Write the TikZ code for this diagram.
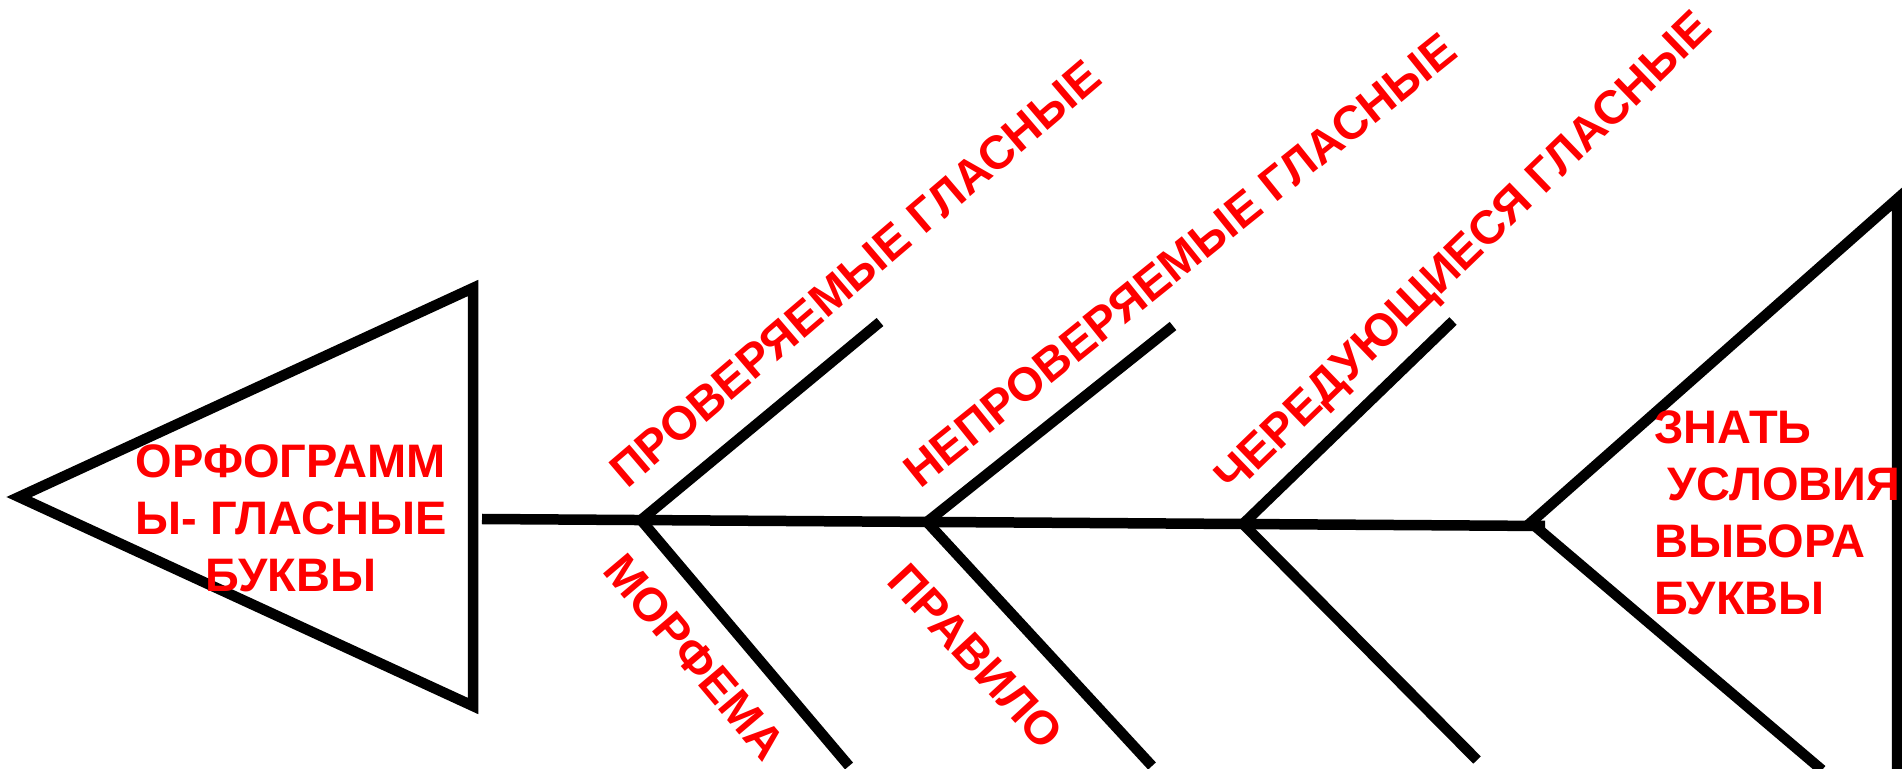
\documentclass[tikz,border=0pt]{standalone}
\usepackage{fontspec}
\setmainfont{Liberation Sans}
\begin{document}
\begin{tikzpicture}[x=1pt,y=1pt,
  bone/.style={line width=10.5pt, line join=miter, line cap=butt, draw=black},
  lbl/.style={text=red, font=\fontsize{47}{57}\selectfont\bfseries, inner sep=0pt}]
\fill[white] (0,0) rectangle (1902,768);
\useasboundingbox (0,0) rectangle (1902,768);
% head triangle
\coordinate (T1) at (19,271);
\coordinate (T2) at (473,480);
\coordinate (T3) at (473,62);
\draw[bone] (T1) -- (T2) -- (T3) -- cycle;
% spine
\coordinate (S0) at (482,249);
\coordinate (S1) at (1545,242);
\draw[bone] (S0) -- (S1);
% junctions
\coordinate (J1) at (641,248);
\coordinate (J2) at (927,246);
\coordinate (J3) at (1243,244);
\coordinate (J4) at (1528,243);
\coordinate (J4b) at (1536,241);
% branch ends
\coordinate (U1) at (880,446);
\coordinate (U2) at (1173,442);
\coordinate (U3) at (1453,447);
\coordinate (L1) at (849,2);
\coordinate (L2) at (1152,2);
\coordinate (L3) at (1477,8);
\coordinate (TT) at (1897,569);
\coordinate (TB) at (1897,-8);
\coordinate (TL) at (1822,-2);
\draw[bone] (J1) -- (U1);
\draw[bone] (J2) -- (U2);
\draw[bone] (J3) -- (U3);
\draw[bone] (J1) -- (L1);
\draw[bone] (J2) -- (L2);
\draw[bone] (J3) -- (L3);
\draw[bone] (J4) -- (TT) -- (TB);
\draw[bone] (J4b) -- (TL);
% labels
\node[lbl, align=center] (head) at (291,250) {ОРФОГРАММ\\Ы- ГЛАСНЫЕ\\БУКВЫ};
\node[lbl, rotate=40.5, anchor=base west] (t1) at (627,278) {ПРОВЕРЯЕМЫЕ ГЛАСНЫЕ};
\node[lbl, rotate=38.8, anchor=base west] (t2) at (920,278) {НЕПРОВЕРЯЕМЫЕ ГЛАСНЫЕ};
\node[lbl, rotate=44, anchor=base west] (t3) at (1233,272) {ЧЕРЕДУЮЩИЕСЯ ГЛАСНЫЕ};
\node[lbl, rotate=-49.8, anchor=base west] (b1) at (601.5,196.3) {МОРФЕМА};
\node[lbl, rotate=-47.3, anchor=base west] (b2) at (885,186) {ПРАВИЛО};
\node[lbl, align=left, anchor=north west] (tail) at (1654,357) {ЗНАТЬ\\\hspace*{.28em}УСЛОВИЯ\\ВЫБОРА\\БУКВЫ};
\end{tikzpicture}
\end{document}
